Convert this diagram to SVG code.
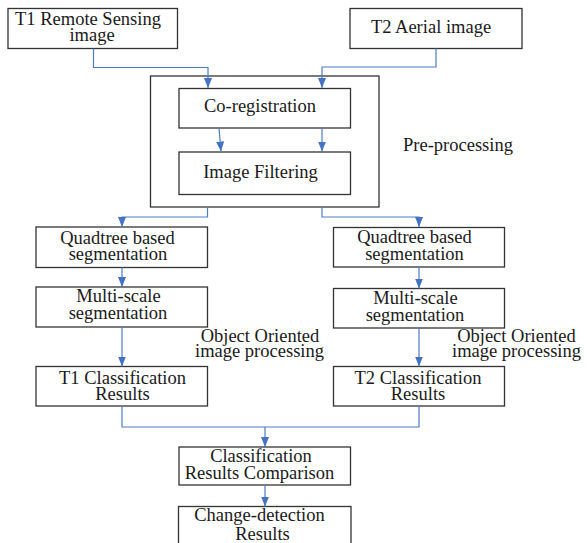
<svg xmlns="http://www.w3.org/2000/svg" width="587" height="543" viewBox="0 0 587 543">
<style>
.box{fill:#fff;stroke:#333;stroke-width:1.3}
.frame{fill:none;stroke:#333;stroke-width:1.3}
.t{font-family:"Liberation Serif","Times New Roman",serif;font-size:18.5px;fill:#1a1a1a;text-anchor:middle}
.c{fill:none;stroke:#4a7cc4;stroke-width:1.2}
</style>
<defs>
<marker id="ah" viewBox="0 0 10 8" refX="10" refY="4" markerWidth="10" markerHeight="8" markerUnits="userSpaceOnUse" orient="auto">
<path d="M0,0 L10,4 L0,8 Z" fill="#4472c4"/>
</marker>
</defs>
<g id="t1">
<rect class="box" x="8" y="8.5" width="169.5" height="40"/>
<text class="t" x="88" y="25">T1 Remote Sensing</text>
<text class="t" x="92" y="40.5">image</text>
</g>
<g id="t2">
<rect class="box" x="350" y="8.5" width="172" height="40"/>
<text class="t" x="431" y="32.5">T2 Aerial image</text>
</g>
<g id="preprocessing">
<rect class="frame" x="150.5" y="76" width="228.5" height="131"/>
<text class="t" x="458" y="151">Pre-processing</text>
</g>
<g id="coreg">
<rect class="box" x="179" y="88.5" width="171.5" height="39.5"/>
<text class="t" x="260" y="111.5">Co-registration</text>
</g>
<g id="filter">
<rect class="box" x="179" y="152" width="171.5" height="42.5"/>
<text class="t" x="260.5" y="177.5">Image Filtering</text>
</g>
<g id="quad1">
<rect class="box" x="36" y="227" width="171.5" height="40.5"/>
<text class="t" x="117.5" y="243.5">Quadtree based</text>
<text class="t" x="118" y="259.5">segmentation</text>
</g>
<g id="multi1">
<rect class="box" x="36" y="287" width="171.5" height="40"/>
<text class="t" x="118.5" y="302">Multi-scale</text>
<text class="t" x="118" y="318.5">segmentation</text>
</g>
<g id="oo1">
<text class="t" x="260" y="341.5">Object Oriented</text>
<text class="t" x="259.5" y="357">image processing</text>
</g>
<g id="class1">
<rect class="box" x="36" y="366.5" width="171.5" height="39.5"/>
<text class="t" x="122.5" y="383.5">T1 Classification</text>
<text class="t" x="122.5" y="399.5">Results</text>
</g>
<g id="quad2">
<rect class="box" x="333.5" y="227.5" width="171" height="39.5"/>
<text class="t" x="414.5" y="243">Quadtree based</text>
<text class="t" x="414.5" y="259.5">segmentation</text>
</g>
<g id="multi2">
<rect class="box" x="333.5" y="288.5" width="171" height="39.5"/>
<text class="t" x="415.5" y="304">Multi-scale</text>
<text class="t" x="415" y="320.5">segmentation</text>
</g>
<g id="oo2">
<text class="t" x="516.5" y="341.5">Object Oriented</text>
<text class="t" x="516.5" y="357">image processing</text>
</g>
<g id="class2">
<rect class="box" x="333.5" y="366.5" width="171" height="39.5"/>
<text class="t" x="418" y="383.5">T2 Classification</text>
<text class="t" x="418" y="399.5">Results</text>
</g>
<g id="compare">
<rect class="box" x="179" y="447" width="171.5" height="38"/>
<text class="t" x="261" y="462">Classification</text>
<text class="t" x="259.5" y="478.5">Results Comparison</text>
</g>
<g id="change">
<rect class="box" x="178.5" y="506.5" width="172.5" height="45"/>
<text class="t" x="259.5" y="521">Change-detection</text>
<text class="t" x="262.5" y="539.5">Results</text>
</g>
<g id="connectors">
<path class="c" d="M93.5,48.5 V67.5 H208 V88" marker-end="url(#ah)"/>
<path class="c" d="M436,48.5 V67 H322 V88" marker-end="url(#ah)"/>
<path class="c" d="M219,128 L221,151.5" marker-end="url(#ah)"/>
<path class="c" d="M322,128 V151.5" marker-end="url(#ah)"/>
<path class="c" d="M207.5,207 V217 H122 V227" marker-end="url(#ah)"/>
<path class="c" d="M322,207 V217 H419 V227" marker-end="url(#ah)"/>
<path class="c" d="M122,267.5 V287" marker-end="url(#ah)"/>
<path class="c" d="M419,267 V288.5" marker-end="url(#ah)"/>
<path class="c" d="M122,327 V366.5" marker-end="url(#ah)"/>
<path class="c" d="M419,328 V366.5" marker-end="url(#ah)"/>
<path class="c" d="M122,406 V427 H419 V406"/>
<path class="c" d="M265,427 V447" marker-end="url(#ah)"/>
<path class="c" d="M265,485 V506.5" marker-end="url(#ah)"/>
</g>
</svg>
